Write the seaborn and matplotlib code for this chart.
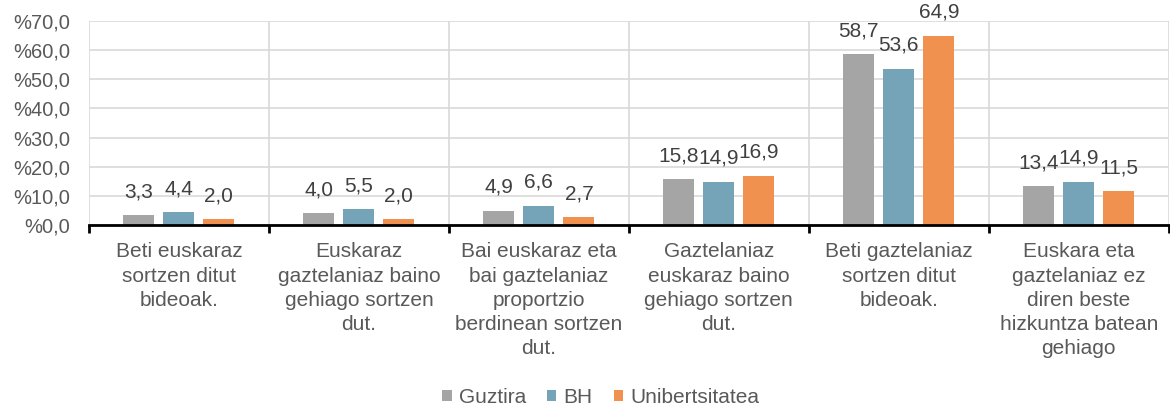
import matplotlib
matplotlib.use("Agg")
import matplotlib.pyplot as plt
import seaborn as sns
import pandas as pd
import numpy as np

categories = [
    "Beti euskaraz\nsortzen ditut\nbideoak.",
    "Euskaraz\ngaztelaniaz baino\ngehiago sortzen\ndut.",
    "Bai euskaraz eta\nbai gaztelaniaz\nproportzio\nberdinean sortzen\ndut.",
    "Gaztelaniaz\neuskaraz baino\ngehiago sortzen\ndut.",
    "Beti gaztelaniaz\nsortzen ditut\nbideoak.",
    "Euskara eta\ngaztelaniaz ez\ndiren beste\nhizkuntza batean\ngehiago",
]
series = ["Guztira", "BH", "Unibertsitatea"]
guztira = [3.3, 4.0, 4.9, 15.8, 58.7, 13.4]
bh = [4.4, 5.5, 6.6, 14.9, 53.6, 14.9]
unibertsitatea = [2.0, 2.0, 2.7, 16.9, 64.9, 11.5]
y_ticks = [0, 10, 20, 30, 40, 50, 60, 70]

colors = ["#A5A5A5", "#75A3B8", "#F0914F"]

df = pd.DataFrame({
    "kategoria": categories * 3,
    "serie": [s for s in series for _ in categories],
    "balioa": guztira + bh + unibertsitatea,
})

sns.set_theme(style="white")
plt.rcParams["font.family"] = ["Liberation Sans", "DejaVu Sans"]

FS = 15
fig = plt.figure(figsize=(11.7, 4.08), dpi=100)
ax = fig.add_axes([0.076, 0.4485, 0.923, 0.5])

sns.barplot(data=df, x="kategoria", y="balioa", hue="serie",
            order=categories, hue_order=series, palette=colors,
            width=0.667, gap=0.225, saturation=1, ax=ax, legend=True,
            edgecolor="none", linewidth=0)

text_col = "#595959"
for cont in ax.containers:
    for bar in cont:
        h = bar.get_height()
        ax.annotate(f"{h:.1f}".replace(".", ","),
                    (bar.get_x() + bar.get_width() / 2, h),
                    xytext=(0, 10), textcoords="offset points",
                    ha="center", va="bottom", fontsize=FS, color="#404040")

ax.set_ylim(0, 70)
ax.set_xlim(-0.5, len(categories) - 0.5)
ax.set_yticks(y_ticks)
ax.set_yticklabels([f"%{v:.1f}".replace(".", ",") for v in y_ticks])
ax.tick_params(axis="y", length=0, pad=13.5, labelsize=14.5, labelcolor=text_col)

ax.set_xticks(range(len(categories)))
ax.set_xticklabels(categories, fontsize=FS, color=text_col, linespacing=1.35)
ax.tick_params(axis="x", which="major", length=0, pad=12.5)
ax.set_xticks(np.arange(-0.5, len(categories), 1.0), minor=True)
ax.tick_params(axis="x", which="minor", length=6, width=2, color="black",
               direction="out", bottom=True)

ax.grid(True, axis="y", color="#D9D9D9", linewidth=1.2)
ax.grid(True, axis="x", which="minor", color="#D9D9D9", linewidth=1.2)
ax.grid(False, axis="x", which="major")
ax.set_axisbelow(True)

for side in ["top", "right", "left"]:
    ax.spines[side].set_visible(False)
ax.spines["bottom"].set_color("black")
ax.spines["bottom"].set_linewidth(2)
ax.set_xlabel("")
ax.set_ylabel("")

handles, labels = ax.get_legend_handles_labels()
ax.legend(handles, labels, loc="center", bbox_to_anchor=(0.474, -0.845),
          ncol=3, frameon=False, fontsize=FS, handlelength=0.45,
          handleheight=0.45, handletextpad=0.35, columnspacing=1.0,
          labelcolor=text_col)

fig.savefig("out.png", dpi=100)
